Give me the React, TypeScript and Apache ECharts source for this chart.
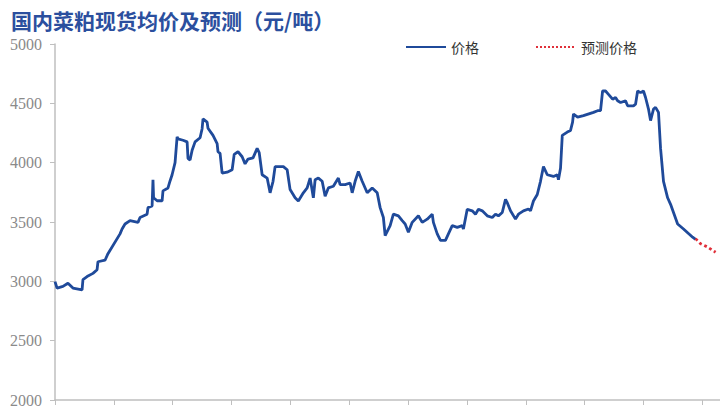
import React, { useEffect, useRef } from "react";
import * as echarts from "echarts";

const titleText = "国内菜粕现货均价及预测（元/吨）";
const seriesNames = ["价格", "预测价格"];
const yTicks = [2000, 2500, 3000, 3500, 4000, 4500, 5000];

// x: trading-day index (20 per axis tick); price: yuan/ton
const priceDays = [
  0, 0.7, 2.7, 4.4, 6.1, 9.2, 9.5, 10.9, 12.9, 14.3, 14.6, 17, 18, 22.1, 22.8, 23.8, 25.5, 28.2, 28.9, 31.3,
  31.6, 33, 33.3, 33.5, 34.7, 36.4, 36.7, 38.4, 39.1, 39.8, 40.8, 41.5, 41.8, 43.5, 44.9, 45.2, 45.9, 46.6, 47.6, 49.3,
  50, 50.3, 51.7, 52, 53.7, 55.1, 55.4, 56.1, 56.8, 58.5, 60.2, 60.9, 62.2, 63.6, 64.6, 65.6, 67.3, 68.7, 69.4, 70.4,
  72.1, 73.1, 74.1, 74.8, 77.6, 78.9, 79.9, 81.6, 82.7, 84.4, 85.7, 86.7, 87.8, 88.4, 89.5, 90.8, 91.8, 92.9, 94.6, 96.3,
  96.9, 98.6, 100.3, 101, 102, 103.1, 104.4, 106.1, 107.8, 109.5, 110.5, 111.6, 112.2, 113.9, 115, 116.7, 118, 119, 120.1, 121.4,
  123.5, 124.8, 126.5, 128.2, 128.6, 129.9, 131, 132.7, 133.7, 135, 136.7, 138.4, 138.8, 140.1, 141.8, 142.9, 143.9, 145.2, 146.9, 148.6,
  149.7, 150.7, 152, 153.1, 153.7, 154.8, 156.5, 157.5, 159.2, 160.9, 161.6, 162.6, 163.9, 165, 166, 167.3, 169.4, 170.7, 171.1, 171.8,
  172.4, 174.1, 175.2, 175.9, 176.2, 177.6, 179.6, 183, 184.4, 185.4, 186.1, 187.1, 188.1, 189.5, 190.5, 191.2, 192.2, 193.9, 194.6, 196.6,
  197.3, 198, 199, 200, 200.7, 201.7, 202.4, 203.4, 204.1, 205.1, 205.8, 206.8, 208.2, 209.2, 210.2, 211.6, 213.6, 216.7, 217.7,
];
const priceValues = [
  2998, 2943, 2957, 2984, 2943, 2929, 3015, 3040, 3067, 3098, 3165, 3178, 3233, 3400, 3441, 3483, 3511, 3497, 3538, 3566,
  3621, 3635, 3856, 3704, 3679, 3679, 3762, 3787, 3846, 3898, 4000, 4217, 4200, 4189, 4175, 4036, 4022, 4105, 4175, 4210,
  4286, 4369, 4341, 4290, 4230, 4161, 4092, 4078, 3912, 3920, 3940, 4070, 4092, 4050, 3990, 4030, 4040, 4120, 4085, 3898,
  3870, 3746, 3843, 3967, 3967, 3940, 3773, 3704, 3677, 3746, 3787, 3870, 3704, 3856, 3870, 3843, 3718, 3787, 3801, 3870,
  3815, 3815, 3829, 3746, 3843, 3926, 3843, 3746, 3787, 3746, 3621, 3538, 3386, 3469, 3566, 3552, 3511, 3483, 3414, 3497,
  3552, 3497, 3524, 3566, 3497, 3400, 3345, 3345, 3400, 3469, 3455, 3469, 3441, 3607, 3594, 3566, 3607, 3594, 3552, 3538,
  3566, 3552, 3580, 3690, 3663, 3594, 3524, 3566, 3594, 3610, 3594, 3677, 3732, 3843, 3967, 3898, 3884, 3898, 3856, 3953,
  4230, 4258, 4272, 4341, 4410, 4383, 4396, 4424, 4438, 4438, 4604, 4604, 4576, 4535, 4549, 4521, 4507, 4521, 4479, 4479,
  4493, 4604, 4590, 4604, 4549, 4452, 4355, 4452, 4466, 4424, 4120, 3843, 3704, 3649, 3580, 3483, 3441, 3372, 3353,
];
const forecastDays = [217.7, 219.4, 221.8, 224.5];
const forecastValues = [3360, 3317, 3289, 3245];

const xMax = 226;
const xInterval = 20;

export default function App() {
  const ref = useRef<HTMLDivElement>(null);
  useEffect(() => {
    if (!ref.current) return;
    const chart = echarts.init(ref.current, undefined, { renderer: "svg" });
    const priceData = priceDays.map((d, i) => [d, priceValues[i]]);
    const forecastData = forecastDays.map((d, i) => [d, forecastValues[i]]);
    chart.setOption({
      animation: false,
      backgroundColor: "#ffffff",
      title: {
        text: titleText,
        left: 6,
        top: 4,
        textStyle: {
          fontFamily: "Noto Sans CJK SC",
          fontSize: 21,
          fontWeight: "bold",
          color: "#2b4f9e",
        },
      },
      legend: {
        left: 400,
        top: 35,
        itemWidth: 40,
        itemHeight: 14,
        itemGap: 56,
        itemStyle: { opacity: 0 },
        textStyle: { fontFamily: "Noto Sans CJK SC", fontSize: 14, color: "#333333" },
        data: seriesNames,
      },
      grid: { left: 55, right: 0, top: 44, bottom: 3, containLabel: false },
      xAxis: {
        type: "value",
        min: 0,
        max: xMax,
        interval: xInterval,
        axisLine: { show: true, lineStyle: { color: "#bfbfbf", width: 1.5 } },
        axisTick: { show: true, length: 5, lineStyle: { color: "#bfbfbf" } },
        axisLabel: { show: false },
        splitLine: { show: false },
      },
      yAxis: {
        type: "value",
        min: yTicks[0],
        max: yTicks[yTicks.length - 1],
        interval: 500,
        axisLine: { show: true, lineStyle: { color: "#bfbfbf", width: 1.5 } },
        axisTick: { show: true, length: 5, lineStyle: { color: "#bfbfbf" } },
        axisLabel: {
          margin: 13,
          fontFamily: "Liberation Serif",
          fontSize: 16,
          color: "#8a8a8a",
          formatter: (v: number) => String(v),
        },
        splitLine: { show: false },
      },
      series: [
        {
          name: seriesNames[0],
          type: "line",
          data: priceData,
          symbol: "none",
          color: "#1f4a9a",
          lineStyle: { color: "#1f4a9a", width: 2.8 },
          z: 3,
        },
        {
          name: seriesNames[1],
          type: "line",
          data: forecastData,
          symbol: "none",
          color: "#e0303a",
          lineStyle: { color: "#e0303a", width: 2.8, type: "dotted" },
          z: 4,
        },
      ],
    });
    return () => chart.dispose();
  }, []);
  return <div ref={ref} style={{ width: 720, height: 408, position: "absolute", left: 0, top: 0 }} />;
}
